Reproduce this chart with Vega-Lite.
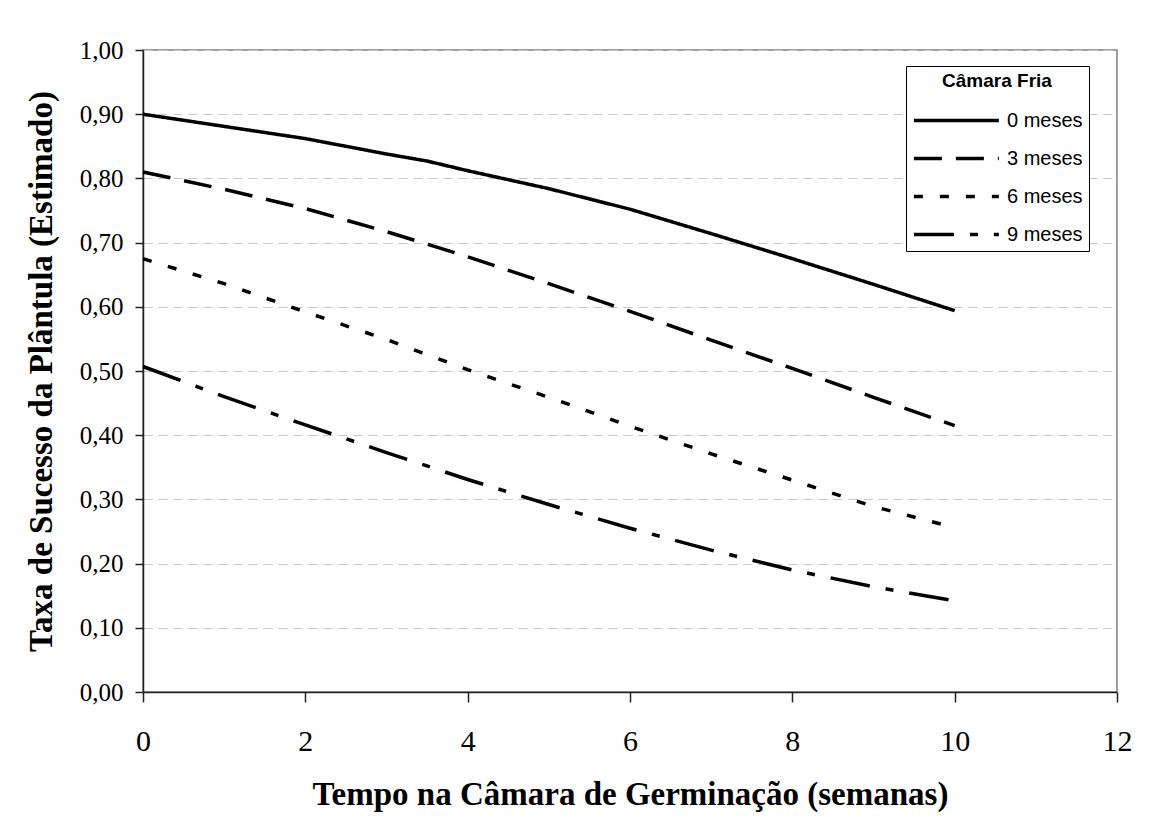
{
  "$schema": "https://vega.github.io/schema/vega-lite/v6.json",
  "autosize": {"type": "none"},
  "width": 974,
  "height": 642,
  "padding": {"left": 143, "top": 50, "right": 41, "bottom": 138},
  "background": "white",
  "config": {
    "view": {"stroke": "#808080", "strokeWidth": 1.5},
    "axis": {"domainColor": "#222", "tickColor": "#222", "domainWidth": 1.5, "tickWidth": 1.5}
  },
  "data": {
    "values": [
      {"t": 0, "v": 0.900, "s": "0 meses"}, {"t": 1, "v": 0.881, "s": "0 meses"}, {"t": 2, "v": 0.862, "s": "0 meses"},
      {"t": 3, "v": 0.838, "s": "0 meses"}, {"t": 3.5, "v": 0.827, "s": "0 meses"}, {"t": 4, "v": 0.812, "s": "0 meses"},
      {"t": 5, "v": 0.784, "s": "0 meses"}, {"t": 6, "v": 0.752, "s": "0 meses"}, {"t": 7, "v": 0.714, "s": "0 meses"},
      {"t": 8, "v": 0.675, "s": "0 meses"}, {"t": 9, "v": 0.635, "s": "0 meses"}, {"t": 10, "v": 0.594, "s": "0 meses"},
      {"t": 0, "v": 0.810, "s": "3 meses"}, {"t": 1, "v": 0.783, "s": "3 meses"}, {"t": 2, "v": 0.753, "s": "3 meses"},
      {"t": 3, "v": 0.717, "s": "3 meses"}, {"t": 4, "v": 0.678, "s": "3 meses"}, {"t": 5, "v": 0.636, "s": "3 meses"},
      {"t": 6, "v": 0.593, "s": "3 meses"}, {"t": 7, "v": 0.548, "s": "3 meses"}, {"t": 8, "v": 0.504, "s": "3 meses"},
      {"t": 9, "v": 0.459, "s": "3 meses"}, {"t": 10, "v": 0.415, "s": "3 meses"},
      {"t": 0, "v": 0.675, "s": "6 meses"}, {"t": 1, "v": 0.636, "s": "6 meses"}, {"t": 2, "v": 0.592, "s": "6 meses"},
      {"t": 3, "v": 0.549, "s": "6 meses"}, {"t": 4, "v": 0.502, "s": "6 meses"}, {"t": 5, "v": 0.459, "s": "6 meses"},
      {"t": 6, "v": 0.414, "s": "6 meses"}, {"t": 7, "v": 0.371, "s": "6 meses"}, {"t": 8, "v": 0.330, "s": "6 meses"},
      {"t": 9, "v": 0.289, "s": "6 meses"}, {"t": 10, "v": 0.256, "s": "6 meses"},
      {"t": 0, "v": 0.507, "s": "9 meses"}, {"t": 1, "v": 0.460, "s": "9 meses"}, {"t": 2, "v": 0.416, "s": "9 meses"},
      {"t": 3, "v": 0.373, "s": "9 meses"}, {"t": 4, "v": 0.331, "s": "9 meses"}, {"t": 5, "v": 0.292, "s": "9 meses"},
      {"t": 6, "v": 0.255, "s": "9 meses"}, {"t": 7, "v": 0.221, "s": "9 meses"}, {"t": 8, "v": 0.190, "s": "9 meses"},
      {"t": 9, "v": 0.164, "s": "9 meses"}, {"t": 10, "v": 0.142, "s": "9 meses"}
    ]
  },
  "mark": {"type": "line", "color": "black", "strokeWidth": 3.5},
  "encoding": {
    "x": {
      "field": "t", "type": "quantitative",
      "scale": {"domain": [0, 12], "nice": false},
      "axis": {
        "values": [0, 2, 4, 6, 8, 10, 12], "grid": false,
        "title": "Tempo na Câmara de Germinação (semanas)",
        "titleFont": "Liberation Serif", "titleFontSize": 33, "titleFontWeight": "bold", "titleColor": "black",
        "titlePadding": 22,
        "labelFont": "Liberation Serif", "labelFontSize": 30, "labelColor": "black", "labelPadding": 24,
        "tickSize": 10, "labelFlush": false
      }
    },
    "y": {
      "field": "v", "type": "quantitative",
      "scale": {"domain": [0, 1], "nice": false},
      "axis": {
        "values": [0, 0.1, 0.2, 0.3, 0.4, 0.5, 0.6, 0.7, 0.8, 0.9, 1.0],
        "labelExpr": "replace(format(datum.value, '.2f'), '.', ',')",
        "grid": true, "gridColor": "#c8c8c8", "gridDash": [9, 6], "gridWidth": 1,
        "title": "Taxa de Sucesso da Plântula (Estimado)",
        "titleFont": "Liberation Serif", "titleFontSize": 33, "titleFontWeight": "bold", "titleColor": "black",
        "titlePadding": 21,
        "labelFont": "Liberation Serif", "labelFontSize": 25, "labelColor": "black", "labelPadding": 12,
        "tickSize": 8, "labelFlush": false
      }
    },
    "strokeDash": {
      "field": "s", "type": "nominal",
      "scale": {
        "domain": ["0 meses", "3 meses", "6 meses", "9 meses"],
        "range": [[1, 0], [28, 14], [9, 17], [40, 16, 8, 16]]
      },
      "legend": {
        "title": "Câmara Fria",
        "orient": "none", "legendX": 763, "legendY": 16,
        "titleFont": "Liberation Sans", "titleFontSize": 19, "titleFontWeight": "bold", "titleColor": "black",
        "titleAnchor": "middle", "titlePadding": 17,
        "labelFont": "Liberation Sans", "labelFontSize": 20, "labelColor": "black", "labelOffset": 70,
        "symbolType": "M-1,0H7", "symbolSize": 451.5, "symbolStrokeWidth": 3.5, "symbolStrokeColor": "black",
        "rowPadding": 15, "padding": 6,
        "strokeColor": "black", "fillColor": "white"
      }
    }
  }
}
